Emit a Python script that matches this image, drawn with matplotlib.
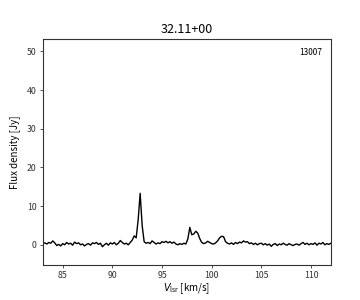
import numpy as np
import matplotlib
matplotlib.use("Agg")
import matplotlib.pyplot as plt

plt.rcParams['font.family'] = ['Noto Sans CJK JP', 'DejaVu Sans']
plt.rcParams['mathtext.fontset'] = 'custom'
plt.rcParams['mathtext.rm'] = 'Noto Sans CJK JP'
plt.rcParams['mathtext.it'] = 'DejaVu Sans:italic'

title = "32.11+00"
label = "13007"
flux = [
    0.3, 0.5, 0.2, 0.6, 0.4, 1.0, 0.5, -0.2, 0.1, -0.3,
    0.3, 0.0, 0.6, 0.2, 0.4, -0.1, 0.7, 0.3, 0.5, 0.0,
    0.2, -0.3, 0.1, 0.3, -0.1, 0.5, 0.3, 0.6, 0.1, 0.4,
    -0.5, 0.0, 0.4, -0.1, 0.5, 0.2, 0.6, 0.0, 0.4, 1.1,
    0.6, 0.2, 0.4, 0.0, 0.6, 1.2, 2.3, 1.8, 6.5, 13.3,
    5.0, 0.8, 0.4, 0.6, 0.3, 1.0, 0.6, 0.2, 0.5, 0.3,
    0.8, 0.6, 0.9, 0.5, 0.8, 0.4, 0.7, 0.2, 0.0, 0.3,
    0.1, 0.4, 0.2, 1.5, 4.5, 2.6, 2.8, 3.5, 3.0, 1.6,
    0.6, 0.3, 0.5, 0.9, 0.6, 0.3, 0.2, 0.5, 1.0, 1.8,
    2.2, 2.1, 0.8, 0.4, 0.2, 0.5, 0.1, 0.6, 0.3, 0.7,
    0.5, 1.0, 0.7, 0.8, 0.3, 0.5, 0.1, 0.4, 0.0, 0.3,
    0.4, 0.0, 0.3, -0.1, 0.2, -0.4, 0.1, 0.3, -0.2, 0.2,
    0.0, 0.4, 0.1, -0.1, 0.3, 0.0, -0.2, 0.1, 0.2, -0.1,
    0.3, 0.6, 0.1, 0.4, 0.0, 0.3, 0.1, 0.5, -0.1, 0.4,
    0.2, 0.6, 0.0, 0.3, 0.1, 0.4,
]
v_start, v_step = 83.0, 0.2
velocity = v_start + v_step * np.arange(len(flux))

fig = plt.figure(figsize=(3.6, 3.0), dpi=100)
ax = fig.add_axes([0.119, 0.117, 0.800, 0.753])
ax.plot(velocity, flux, color='black', lw=1.0)
ax.set_xlim(83, 112)
ax.set_ylim(-5.2, 53.2)
ax.set_xticks([85, 90, 95, 100, 105, 110])
ax.set_yticks([0, 10, 20, 30, 40, 50])
ax.tick_params(labelsize=6.3, length=2.5, width=0.6, pad=2, colors='#333333')
for s in ax.spines.values():
    s.set_color('#333333')
    s.set_linewidth(0.8)
ax.set_title(title, fontsize=9, pad=4)
ax.set_xlabel(r"$V_{\rm lsr}$ [km/s]", fontsize=7, labelpad=1)
ax.set_ylabel("Flux density [Jy]", fontsize=7, labelpad=5)
ax.text(0.97, 0.96, label, transform=ax.transAxes, ha='right', va='top', fontsize=6)
fig.savefig("out.png", dpi=100)
